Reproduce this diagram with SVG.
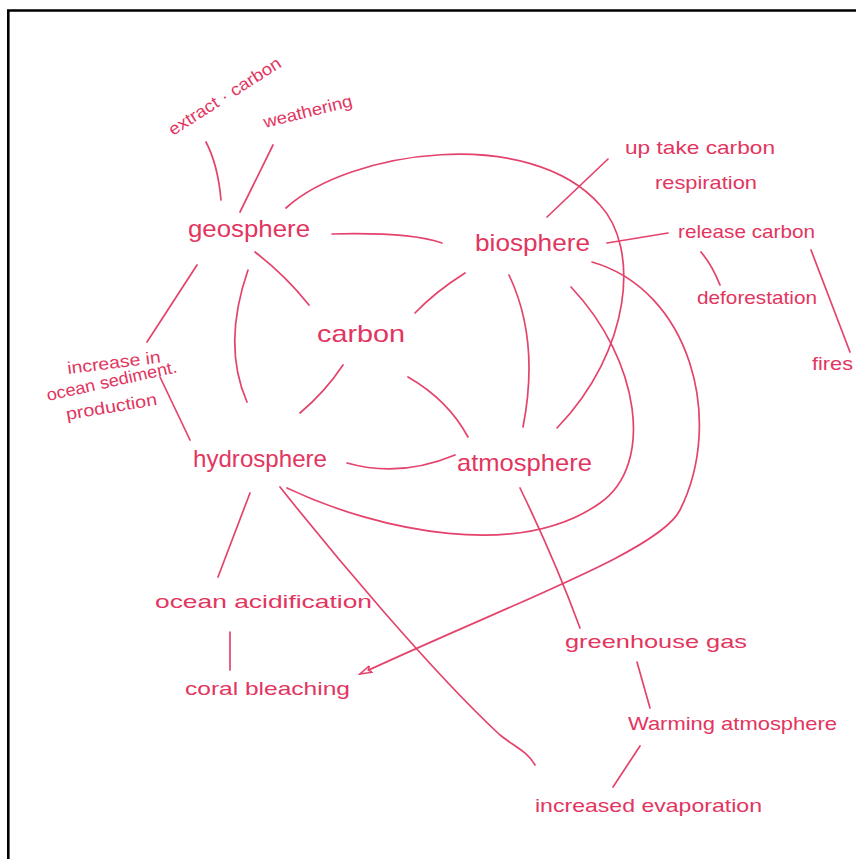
<svg xmlns="http://www.w3.org/2000/svg" width="856" height="859" viewBox="0 0 856 859">
<style>
  .t { font-family: "Liberation Sans", Arial, sans-serif; fill: #e2355f; }
  .main { font-size: 24px; }
  .sub { font-size: 19px; }
  .small { font-size: 17px; }
  .c { fill: none; stroke: #e4436b; stroke-width: 1.7; stroke-linecap: round; }
</style>
<defs>
  <marker id="arr" markerUnits="userSpaceOnUse" markerWidth="14" markerHeight="10" refX="12" refY="4" orient="auto" viewBox="0 0 14 10">
    <path d="M0,0.5 L12,4 L0,7.5 L3,4 Z" fill="#fff" stroke="#e4436b" stroke-width="1.5"/>
  </marker>
</defs>
<rect width="856" height="859" fill="#fff"/>
<path d="M8.3,859 V10.5 H856" fill="none" stroke="#000" stroke-width="2.6"/>

<g id="connectors">
  <path class="c" d="M206,142 Q218,165 221,200"/>
  <path class="c" d="M273,145 L240,212"/>
  <path class="c" d="M197,265 L147,342"/>
  <path class="c" d="M160,377 L190,440"/>
  <path class="c" d="M248,270 Q222,345 247,402"/>
  <path class="c" d="M255,252 Q285,275 309,305"/>
  <path class="c" d="M332,234 Q410,232 442,243"/>
  <path class="c" d="M286,208 C350,150 530,125 600,205 C640,248 632,350 557,428"/>
  <path class="c" d="M465,273 Q435,292 415,313"/>
  <path class="c" d="M547,217 L608,159"/>
  <path class="c" d="M607,243 L668,233"/>
  <path class="c" d="M701,252 Q712,265 720,285"/>
  <path class="c" d="M811,250 L850,352"/>
  <path class="c" d="M509,275 Q540,340 523,427"/>
  <path class="c" d="M571,287 C640,360 655,465 600,503 C520,560 380,532 287,488"/>
  <path class="c" d="M592,262 C690,290 725,420 680,510 C660,550 520,600 360,674" marker-end="url(#arr)"/>
  <path class="c" d="M347,463 Q400,478 455,455"/>
  <path class="c" d="M343,365 Q325,392 300,413"/>
  <path class="c" d="M408,377 Q448,400 468,437"/>
  <path class="c" d="M520,488 Q555,560 580,628"/>
  <path class="c" d="M250,493 L218,577"/>
  <path class="c" d="M230,632 L230,670"/>
  <path class="c" d="M280,487 C330,550 430,670 500,735 C515,747 528,752 535,765"/>
  <path class="c" d="M637,662 L650,708"/>
  <path class="c" d="M640,746 L613,787"/>
</g>

<g id="geosphere"><text class="t main" x="188" y="237" textLength="122" lengthAdjust="spacingAndGlyphs">geosphere</text></g>
<g id="biosphere"><text class="t main" x="475" y="251" textLength="115" lengthAdjust="spacingAndGlyphs">biosphere</text></g>
<g id="carbon"><text class="t main" x="317" y="342" textLength="88" lengthAdjust="spacingAndGlyphs">carbon</text></g>
<g id="hydrosphere"><text class="t main" x="193" y="467" textLength="134" lengthAdjust="spacingAndGlyphs">hydrosphere</text></g>
<g id="atmosphere"><text class="t main" x="457" y="471" textLength="135" lengthAdjust="spacingAndGlyphs">atmosphere</text></g>

<g id="extract-carbon"><text class="t small" x="173" y="136" textLength="130" lengthAdjust="spacingAndGlyphs" transform="rotate(-32.5 173 136)">extract · carbon</text></g>
<g id="weathering"><text class="t small" x="265" y="128" textLength="91" lengthAdjust="spacingAndGlyphs" transform="rotate(-14 265 128)">weathering</text></g>
<g id="uptake"><text class="t sub" x="625" y="154" textLength="150" lengthAdjust="spacingAndGlyphs">up take carbon</text>
  <text class="t sub" x="655" y="189" textLength="102" lengthAdjust="spacingAndGlyphs">respiration</text></g>
<g id="release-carbon"><text class="t sub" x="678" y="238" textLength="137" lengthAdjust="spacingAndGlyphs">release carbon</text></g>
<g id="deforestation"><text class="t sub" x="697" y="304" textLength="120" lengthAdjust="spacingAndGlyphs">deforestation</text></g>
<g id="fires"><text class="t sub" x="812" y="370" textLength="41" lengthAdjust="spacingAndGlyphs">fires</text></g>
<g id="sediment">
  <text class="t small" x="68" y="374" textLength="94" lengthAdjust="spacingAndGlyphs" transform="rotate(-7 68 374)">increase in</text>
  <text class="t small" x="48" y="401" textLength="133" lengthAdjust="spacingAndGlyphs" transform="rotate(-12.5 48 401)">ocean sediment.</text>
  <text class="t small" x="67" y="420" textLength="92" lengthAdjust="spacingAndGlyphs" transform="rotate(-9.5 67 420)">production</text>
</g>
<g id="ocean-acidification"><text class="t sub" x="155" y="608" textLength="217" lengthAdjust="spacingAndGlyphs">ocean acidification</text></g>
<g id="coral-bleaching"><text class="t sub" x="185" y="695" textLength="165" lengthAdjust="spacingAndGlyphs">coral bleaching</text></g>
<g id="greenhouse-gas"><text class="t sub" x="565" y="648" textLength="182" lengthAdjust="spacingAndGlyphs">greenhouse gas</text></g>
<g id="warming-atmosphere"><text class="t sub" x="628" y="730" textLength="209" lengthAdjust="spacingAndGlyphs">Warming atmosphere</text></g>
<g id="increased-evaporation"><text class="t sub" x="535" y="812" textLength="227" lengthAdjust="spacingAndGlyphs">increased evaporation</text></g>
</svg>
